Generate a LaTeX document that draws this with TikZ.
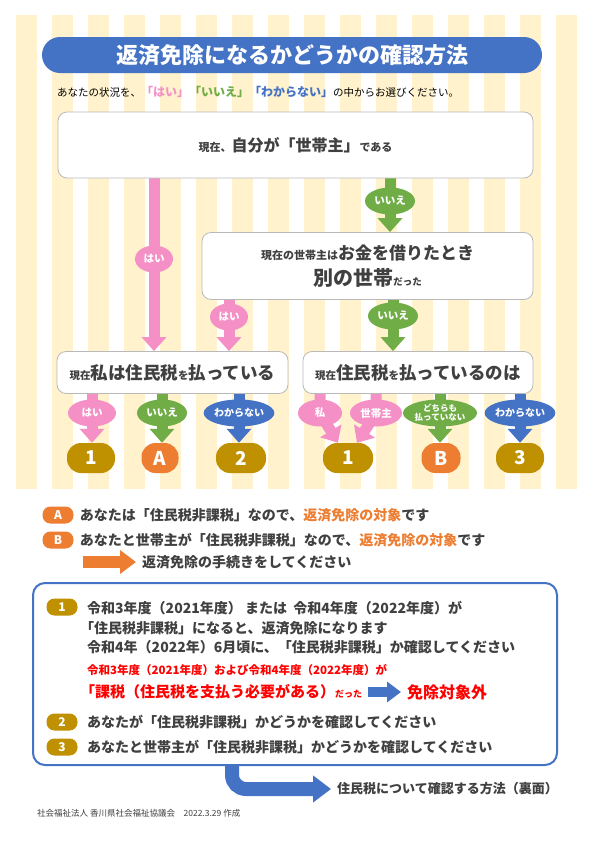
\documentclass[tikz,border=0pt]{standalone}
\usepackage{fontspec}
\setmainfont{Noto Sans CJK JP}
\usetikzlibrary{shapes.geometric, arrows.meta, positioning, calc, backgrounds}

\definecolor{stripe}{HTML}{FFF2CC}
\definecolor{titleblue}{HTML}{4472C4}
\definecolor{haipink}{HTML}{F590C6}
\definecolor{iiegreen}{HTML}{70AD47}
\definecolor{wakblue}{HTML}{4472C4}
\definecolor{gold}{HTML}{BF9000}
\definecolor{orng}{HTML}{ED7D31}
\definecolor{txt}{HTML}{404040}
\definecolor{alert}{HTML}{FF0000}

\newcommand\fs[1]{\fontsize{#1}{#1}\selectfont}

\pgfdeclarelayer{stripes}
\pgfdeclarelayer{flow}
\pgfsetlayers{stripes,flow,main}

\begin{document}
\begin{tikzpicture}[x=1pt, y=-1pt,
        qbox/.style={draw=gray!55, fill=white, rounded corners=9pt, line width=0.8pt, text=txt, font=\bfseries\fs{11}, inner sep=2pt},
        choice/.style={ellipse, fill=#1, text=white, font=\bfseries\fs{10.5}, inner sep=0pt, minimum height=27pt, minimum width=38pt},
        result/.style={fill=#1, rounded corners=14pt, text=white, font=\bfseries\fs{19}, minimum height=30pt, minimum width=48pt, inner sep=0pt},
        flowarr/.style={draw=#1, line width=11pt, -{Triangle[width=24pt,length=14pt]}},
        badge/.style={fill=#1, rounded corners=8pt, text=white, font=\bfseries\fs{12}, minimum width=31pt, minimum height=17pt, inner sep=0pt},
        textline/.style={anchor=west, inner sep=0pt, text=txt, font=\bfseries\fs{14}}
    ]
        \useasboundingbox (0,0) rectangle (595,841);

        % Stripes
        \begin{pgfonlayer}{stripes}
            \fill[white] (0,0) rectangle (595,841);
            \foreach \i in {0,...,15}
                \fill[stripe] (16+36*\i,15) rectangle ++(21,474);
        \end{pgfonlayer}

        % Title
        \node[fill=titleblue, rounded corners=18pt, minimum width=500pt, minimum height=36pt, text=white, font=\bfseries\fs{22}] (title) at (292,55) {返済免除になるかどうかの確認方法};
        \node[anchor=west, inner sep=0pt, font=\fs{10.5}] (guide) at (57,92) {あなたの状況を、{\bfseries\fs{12}\textcolor{haipink}{「はい」}\textcolor{iiegreen}{「いいえ」}\textcolor{wakblue}{「わからない」}}の中からお選びください。};

        % Questions
        \node[qbox, minimum width=475pt, minimum height=66pt] (q1) at (295.5,145) {現在、{\fs{16}自分が「世帯主」}である};
        \node[qbox, minimum width=331pt, minimum height=67pt, align=center] (q2) at (367.5,266) {現在の世帯主は{\fs{17}お金を借りたとき}\\[6pt]{\fs{20}別の世帯}{\fs{9.5}だった}};
        \node[qbox, minimum width=231pt, minimum height=42pt] (q3) at (172.5,372.5) {\fs{10.5}現在{\fs{17.5}私は住民税}を{\fs{17.5}払っている}};
        \node[qbox, minimum width=230pt, minimum height=42pt] (q4) at (418,372.5) {\fs{10.5}現在{\fs{17.5}住民税}を{\fs{17.5}払っているのは}};

        % Answers
        \node[choice=haipink] (hai1) at (154,259) {はい};
        \node[choice=iiegreen, minimum width=50pt] (iie1) at (390,201) {いいえ};
        \node[choice=haipink] (hai2) at (229,317) {はい};
        \node[choice=iiegreen, minimum width=50pt] (iie2) at (393,316) {いいえ};
        \node[choice=haipink, minimum width=48pt] (hai3) at (92,413) {はい};
        \node[choice=iiegreen, minimum width=50pt] (iie3) at (162,413) {いいえ};
        \node[choice=wakblue, minimum width=70pt, font=\bfseries\fs{10}] (wak3) at (239,413) {わからない};
        \node[choice=haipink, minimum width=44pt] (me) at (320,413) {私};
        \node[choice=haipink, minimum width=52pt] (head) at (376,413) {世帯主};
        \node[choice=iiegreen, minimum width=74pt, align=center, font=\bfseries\fs{8.5}] (neither) at (440,413) {どちらも\\払っていない};
        \node[choice=wakblue, minimum width=70pt, font=\bfseries\fs{10}] (wak4) at (520,413) {わからない};

        % Results
        \node[result=gold] (r1) at (91,458) {1};
        \node[result=orng, minimum width=37pt] (ra) at (160,458) {A};
        \node[result=gold, minimum width=50pt] (r2) at (241,458) {2};
        \node[result=gold, minimum width=50pt] (r4) at (348,458) {1};
        \node[result=orng, minimum width=39pt] (rb) at (441,458) {B};
        \node[result=gold] (r5) at (520,458) {3};

        % Arrows
        \begin{pgfonlayer}{flow}
            \draw[flowarr=haipink] (q1.south -| hai1) -- (q3.north -| hai1);
            \draw[flowarr=iiegreen] (q1.south -| iie1) -- (q2.north -| iie1);
            \draw[flowarr=haipink] (q2.south -| hai2) -- (q3.north -| hai2);
            \draw[flowarr=iiegreen] (q2.south -| iie2) -- (q4.north -| iie2);
            \draw[flowarr=haipink] (q3.south -| hai3) -- (r1.north -| hai3);
            \draw[flowarr=iiegreen] (q3.south -| iie3) -- (ra.north -| iie3);
            \draw[flowarr=wakblue] (q3.south -| wak3) -- (r2.north -| wak3);
            \draw[flowarr=haipink] (q4.south -| me) -- (me.center) -- ($(r4.north)+(-10,0)$);
            \draw[flowarr=haipink] (q4.south -| head) -- (head.center) -- ($(r4.north)+(9,0)$);
            \draw[flowarr=iiegreen] (q4.south -| neither) -- (rb.north -| neither);
            \draw[flowarr=wakblue] (q4.south -| wak4) -- (r5.north -| wak4);
        \end{pgfonlayer}

        % Notes A and B
        \node[badge=orng] (ka) at (58,515) {A};
        \node[textline, right=6pt of ka] (na) {あなたは「住民税非課税」なので、\textcolor{orng}{返済免除の対象}です};
        \node[badge=orng] (kb) at (58,540) {B};
        \node[textline, right=6pt of kb] (nb) {あなたと世帯主が「住民税非課税」なので、\textcolor{orng}{返済免除の対象}です};
        \coordinate (procstart) at (83,562);
        \node[textline] (proc) at (142,562) {返済免除の手続きをしてください};
        \draw[orng, line width=12pt, -{Triangle[width=23pt,length=16pt]}] (procstart) -- ([xshift=-6pt]proc.west);

        % Panel
        \node[draw=titleblue, line width=2pt, rounded corners=12pt, minimum width=524pt, minimum height=182pt, fill=white] (panel) at (295,674) {};
        \node[badge=gold] (k1) at (62,607) {1};
        \node[textline] (l1) at (87,608) {令和3年度（2021年度） または \ 令和4年度（2022年度）が};
        \node[textline] (l2) at (80,628) {「住民税非課税」になると、返済免除になります};
        \node[textline] (l3) at (87,647) {令和4年（2022年）6月頃に、「住民税非課税」か確認してください};
        \node[textline, text=alert, font=\bfseries\fs{11.5}] (l4) at (87,670) {令和3年度（2021年度）および令和4年度（2022年度）が};
        \node[textline, text=alert, font=\bfseries\fs{15}] (l5) at (80,692) {「課税（住民税を支払う必要がある）{\fs{9}だった}};
        \node[textline, text=alert, font=\bfseries\fs{16}] (excl) at (407,692) {免除対象外};
        \draw[titleblue, line width=10pt, -{Triangle[width=20pt,length=14pt]}] ([xshift=6pt]l5.east) -- ([xshift=-6pt]excl.west);
        \node[badge=gold] (k2) at (62,722) {2};
        \node[textline] (l6) at (87,722) {あなたが「住民税非課税」かどうかを確認してください};
        \node[badge=gold] (k3) at (62,747) {3};
        \node[textline] (l7) at (87,747) {あなたと世帯主が「住民税非課税」かどうかを確認してください};

        % Back page
        \coordinate (bend) at (232,0);
        \node[textline, font=\bfseries\fs{13}] (back) at (337,789) {住民税について確認する方法（裏面）};
        \draw[titleblue, line width=14pt, rounded corners=14pt, -{Triangle[width=26pt,length=18pt]}] (panel.south -| bend) |- ([xshift=-6pt]back.west);

        % Footer
        \node[anchor=west, inner sep=0pt, text=txt, font=\fs{8.5}] (credit) at (37,813) {社会福祉法人 香川県社会福祉協議会　2022.3.29 作成};
    \end{tikzpicture}
\end{document}
